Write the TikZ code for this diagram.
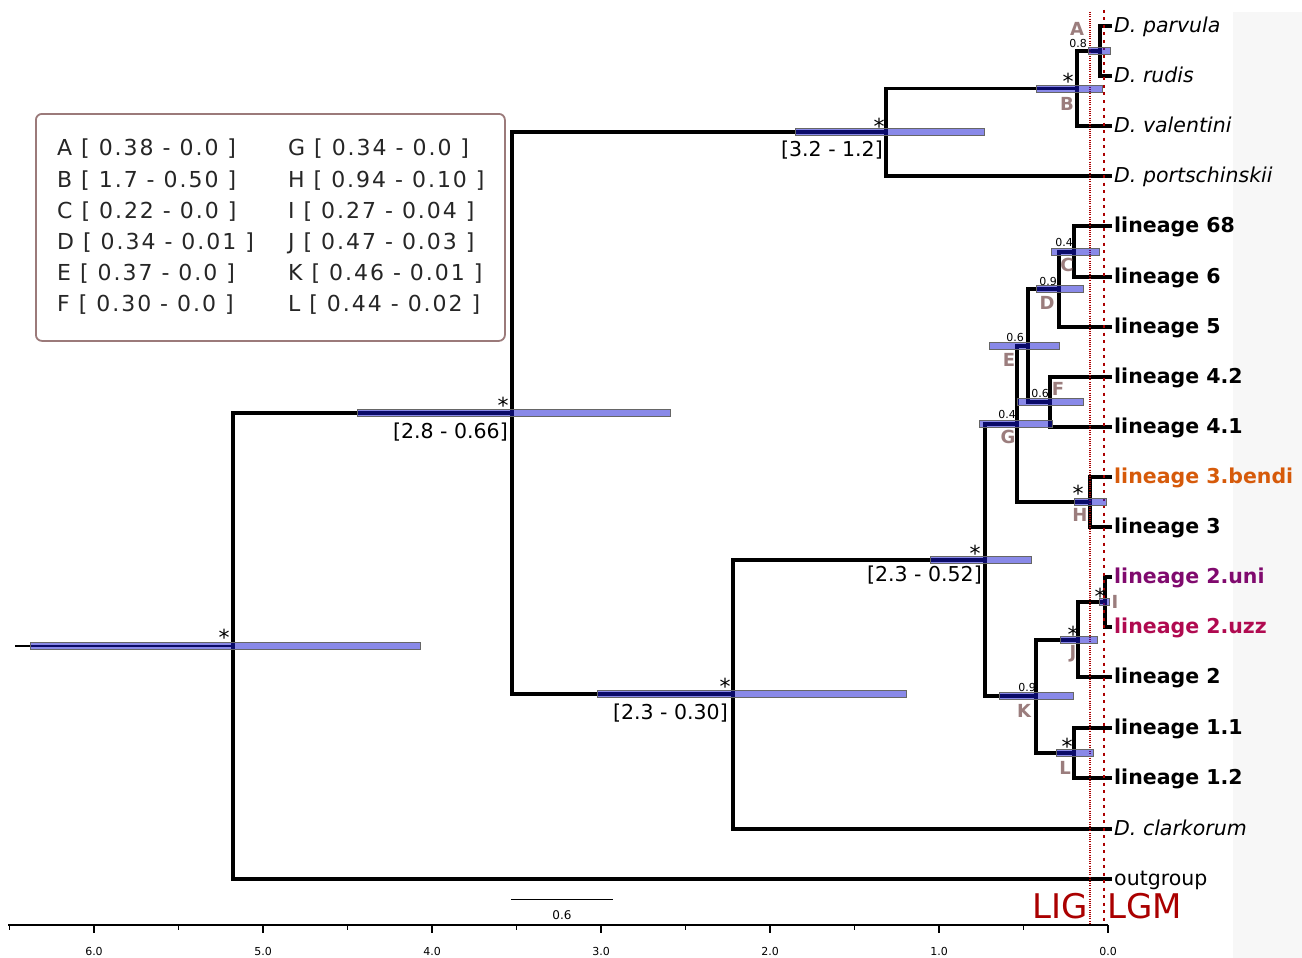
\documentclass[tikz,border=0pt]{standalone}
\usepackage{fontspec}
\setmainfont{DejaVu Sans}
\newcommand\myfs[1]{\fontsize{#1}{#1}\selectfont}
\definecolor{barblue}{RGB}{20,20,210}
\definecolor{ltr}{RGB}{155,125,125}
\definecolor{lred}{RGB}{170,0,0}
\definecolor{bgg}{RGB}{247,247,247}
\definecolor{legbd}{RGB}{155,122,122}
\definecolor{orng}{RGB}{214,90,10}
\definecolor{purp}{RGB}{128,10,110}
\definecolor{crim}{RGB}{176,10,80}
\begin{document}
\begin{tikzpicture}[x=1pt,y=-1pt,
  br/.style={line width=3.6pt,line join=miter},
  hpd/.style={fill=barblue,fill opacity=0.5,draw=black!60,line width=0.8pt},
  tipb/.style={anchor=base west,inner sep=0pt,font=\myfs{20.5}\bfseries},
  tipi/.style={anchor=base west,inner sep=0pt,font=\myfs{20.5}\itshape},
  tipr/.style={anchor=base west,inner sep=0pt,font=\myfs{20.5}},
  nlab/.style={inner sep=0pt,text=ltr,font=\myfs{18}\bfseries},
  supv/.style={inner sep=0pt,font=\myfs{11}},
  ast/.style={inner sep=0pt,font=\myfs{22}},
  hpdlab/.style={anchor=base east,inner sep=0pt,font=\myfs{20.5}},
  leg/.style={anchor=base west,inner sep=0pt,font=\myfs{22}\addfontfeature{LetterSpace=9},text=black!85},
  axl/.style={inner sep=0pt,font=\myfs{11}},
]
\useasboundingbox (0,0) rectangle (1302,958);
\fill[white] (0,0) rectangle (1302,958);
\fill[bgg] (1233,12) rectangle (1302,958);

% tree nodes
\coordinate (rs) at (15,646);
\coordinate (root) at (233,646);
\coordinate (n1) at (512,413);
\coordinate (n2) at (886,132);
\coordinate (nB) at (1077,88.5);
\coordinate (nA) at (1100,51);
\coordinate (n3) at (733,694);
\coordinate (n4) at (985,560);
\coordinate (nG) at (1017,424);
\coordinate (nE) at (1028,346);
\coordinate (nD) at (1059,289);
\coordinate (nC) at (1074,252);
\coordinate (nF) at (1050,402);
\coordinate (nH) at (1090,502);
\coordinate (nK) at (1036,696);
\coordinate (nJ) at (1078,640);
\coordinate (nI) at (1105,602);
\coordinate (nL) at (1074,753);
% tips
\coordinate (tparv) at (1112,26);
\coordinate (trud) at (1112,76);
\coordinate (tval) at (1112,126);
\coordinate (tport) at (1112,176);
\coordinate (t68) at (1112,226);
\coordinate (t6) at (1112,277);
\coordinate (t5) at (1112,327);
\coordinate (t42) at (1112,377);
\coordinate (t41) at (1112,427);
\coordinate (t3b) at (1112,477);
\coordinate (t3) at (1112,527);
\coordinate (t2uni) at (1112,577);
\coordinate (t2uzz) at (1112,627);
\coordinate (t2) at (1112,677);
\coordinate (t11) at (1112,728);
\coordinate (t12) at (1112,778);
\coordinate (tclark) at (1112,829);
\coordinate (tout) at (1112,879);

% branches
\draw[line width=1.8pt] (rs) -- (root);
\draw[br] (root) |- (n1);  \draw[br] (root) |- (tout);
\draw[br] (n1) |- (n2);    \draw[br] (n1) |- (n3);
\draw[br] (n2) |- (nB);    \draw[br] (n2) |- (tport);
\draw[br] (nB) |- (nA);    \draw[br] (nB) |- (tval);
\draw[br] (nA) |- (tparv); \draw[br] (nA) |- (trud);
\draw[br] (n3) |- (n4);    \draw[br] (n3) |- (tclark);
\draw[br] (n4) |- (nG);    \draw[br] (n4) |- (nK);
\draw[br] (nG) |- (nE);    \draw[br] (nG) |- (nH);
\draw[br] (nE) |- (nD);    \draw[br] (nE) |- (nF);
\draw[br] (nD) |- (nC);    \draw[br] (nD) |- (t5);
\draw[br] (nC) |- (t68);   \draw[br] (nC) |- (t6);
\draw[br] (nF) |- (t42);   \draw[br] (nF) |- (t41);
\draw[br] (nH) |- (t3b);   \draw[br] (nH) |- (t3);
\draw[br] (nK) |- (nJ);    \draw[br] (nK) |- (nL);
\draw[br] (nJ) |- (nI);    \draw[br] (nJ) |- (t2);
\draw[br] (nI) |- (t2uni); \draw[br] (nI) |- (t2uzz);
\draw[br] (nL) |- (t11);   \draw[br] (nL) |- (t12);

% LIG / LGM lines
\coordinate (ligt) at (1090,12);  \coordinate (ligb) at (1090,925);
\coordinate (lgmt) at (1104,10);  \coordinate (lgmb) at (1104,925);
\draw[lred,line width=1.4pt,dash pattern=on 1pt off 1.2pt] (ligt) -- (ligb);
\draw[lred,line width=2.8pt,dash pattern=on 3pt off 4.5pt] (lgmt) -- (lgmb);

% HPD bars
\path[hpd] (30,642.5) rectangle (420,649.5);
\path[hpd] (357,409.5) rectangle (670,416.5);
\path[hpd] (795,128.5) rectangle (984,135.5);
\path[hpd] (1036,85) rectangle (1102,92);
\path[hpd] (1088,47.5) rectangle (1110,54.5);
\path[hpd] (597,690.5) rectangle (906,697.5);
\path[hpd] (930,556.5) rectangle (1031,563.5);
\path[hpd] (979,420.5) rectangle (1052,427.5);
\path[hpd] (989,342.5) rectangle (1059,349.5);
\path[hpd] (1036,285.5) rectangle (1083,292.5);
\path[hpd] (1051,248.5) rectangle (1099,255.5);
\path[hpd] (1017,398.5) rectangle (1083,405.5);
\path[hpd] (1074,498.5) rectangle (1106,505.5);
\path[hpd] (999,692.5) rectangle (1073,699.5);
\path[hpd] (1060,636.5) rectangle (1097,643.5);
\path[hpd] (1099,598.5) rectangle (1109,605.5);
\path[hpd] (1056,749.5) rectangle (1093,756.5);

% asterisks
\node[ast] (sroot) at (224,637) {*};
\node[ast] (sn1) at (503,405) {*};
\node[ast] (sn2) at (879,126) {*};
\node[ast] (sn3) at (725,686) {*};
\node[ast] (sn4) at (975,553) {*};
\node[ast] (sB) at (1068,81) {*};
\node[ast] (sH) at (1078,493) {*};
\node[ast] (sI) at (1100,596) {*};
\node[ast] (sJ) at (1073,634) {*};
\node[ast] (sL) at (1067,746) {*};

% HPD interval labels
\node[hpdlab] (h1) at (508,438) {[2.8 - 0.66]};
\node[hpdlab] (h2) at (883,156) {[3.2 - 1.2]};
\node[hpdlab] (h3) at (728,719) {[2.3 - 0.30]};
\node[hpdlab] (h4) at (982,581) {[2.3 - 0.52]};

% node letters
\node[nlab] (lA) at (1077,29) {A};
\node[nlab] (lB) at (1067,104) {B};
\node[nlab] (lC) at (1067,265) {C};
\node[nlab] (lD) at (1047,303) {D};
\node[nlab] (lE) at (1009,360) {E};
\node[nlab] (lF) at (1058,389) {F};
\node[nlab] (lG) at (1008,437) {G};
\node[nlab] (lH) at (1080,515) {H};
\node[nlab] (lI) at (1115,602) {I};
\node[nlab] (lJ) at (1073,654) {J};
\node[nlab] (lK) at (1024,711) {K};
\node[nlab] (lL) at (1065,768) {L};

% support values
\node[supv] (vA) at (1078,43) {0.8};
\node[supv] (vC) at (1064,242) {0.4};
\node[supv] (vD) at (1048,281) {0.9};
\node[supv] (vE) at (1015,337) {0.6};
\node[supv] (vF) at (1040,393) {0.6};
\node[supv] (vG) at (1007,414) {0.4};
\node[supv] (vK) at (1027,687) {0.9};

% tip labels
\node[tipi] (Lparv) at (1114,32.5) {D. parvula};
\node[tipi] (Lrud) at (1114,82.5) {D. rudis};
\node[tipi] (Lval) at (1114,132.5) {D. valentini};
\node[tipi] (Lport) at (1114,182.5) {D. portschinskii};
\node[tipb] (L68) at (1114,232.5) {lineage 68};
\node[tipb] (L6) at (1114,283.5) {lineage 6};
\node[tipb] (L5) at (1114,333.5) {lineage 5};
\node[tipb] (L42) at (1114,383.5) {lineage 4.2};
\node[tipb] (L41) at (1114,433.5) {lineage 4.1};
\node[tipb,text=orng] (L3b) at (1114,483.5) {lineage 3.bendi};
\node[tipb] (L3) at (1114,533.5) {lineage 3};
\node[tipb,text=purp] (L2uni) at (1114,583.5) {lineage 2.uni};
\node[tipb,text=crim] (L2uzz) at (1114,633.5) {lineage 2.uzz};
\node[tipb] (L2) at (1114,683.5) {lineage 2};
\node[tipb] (L11) at (1114,734.5) {lineage 1.1};
\node[tipb] (L12) at (1114,784.5) {lineage 1.2};
\node[tipi] (Lclark) at (1114,835.5) {D. clarkorum};
\node[tipr] (Lout) at (1114,885.5) {outgroup};

% LIG / LGM labels
\node[anchor=base east,inner sep=0pt,text=lred,font=\myfs{34}] (LIG) at (1088,918) {LIG};
\node[anchor=base west,inner sep=0pt,text=lred,font=\myfs{34}] (LGM) at (1107,918) {LGM};

% legend
\node[draw=legbd,line width=1.8pt,rounded corners=6pt,minimum width=469pt,minimum height=227pt,anchor=north west,inner sep=0pt] (legbox) at (35,113) {};
\node[leg] (gA) at (57,155) {A [ 0.38 - 0.0 ]};
\node[leg] (gB) at (57,187) {B [ 1.7 - 0.50 ]};
\node[leg] (gC) at (57,218) {C [ 0.22 - 0.0 ]};
\node[leg] (gD) at (57,249) {D [ 0.34 - 0.01 ]};
\node[leg] (gE) at (57,280) {E [ 0.37 - 0.0 ]};
\node[leg] (gF) at (57,311) {F [ 0.30 - 0.0 ]};
\node[leg] (gG) at (288,155) {G [ 0.34 - 0.0 ]};
\node[leg] (gH) at (288,187) {H [ 0.94 - 0.10 ]};
\node[leg] (gI) at (288,218) {I [ 0.27 - 0.04 ]};
\node[leg] (gJ) at (288,249) {J [ 0.47 - 0.03 ]};
\node[leg] (gK) at (288,280) {K [ 0.46 - 0.01 ]};
\node[leg] (gL) at (288,311) {L [ 0.44 - 0.02 ]};

% scale bar
\coordinate (sb1) at (511,899); \coordinate (sb2) at (613,899);
\draw[line width=1pt] (sb1) -- (sb2);
\node[inner sep=0pt,font=\myfs{12}] (sbl) at (562,915) {0.6};

% axis
\coordinate (ax1) at (8,925); \coordinate (ax2) at (1108,925);
\draw[line width=1.3pt] (ax1) -- (ax2);
\foreach \k/\lab in {0/0.0,1/1.0,2/2.0,3/3.0,4/4.0,5/5.0,6/6.0}{
  \draw[line width=1.3pt] ({1108-169*\k},925) -- ({1108-169*\k},933);
  \node[axl] at ({1108-169*\k},951) {\lab};
}
\foreach \k in {0.5,1.5,2.5,3.5,4.5,5.5,6.5}{
  \draw[line width=1pt] ({1108-169*\k},925) -- ({1108-169*\k},930);
}
\end{tikzpicture}
\end{document}
